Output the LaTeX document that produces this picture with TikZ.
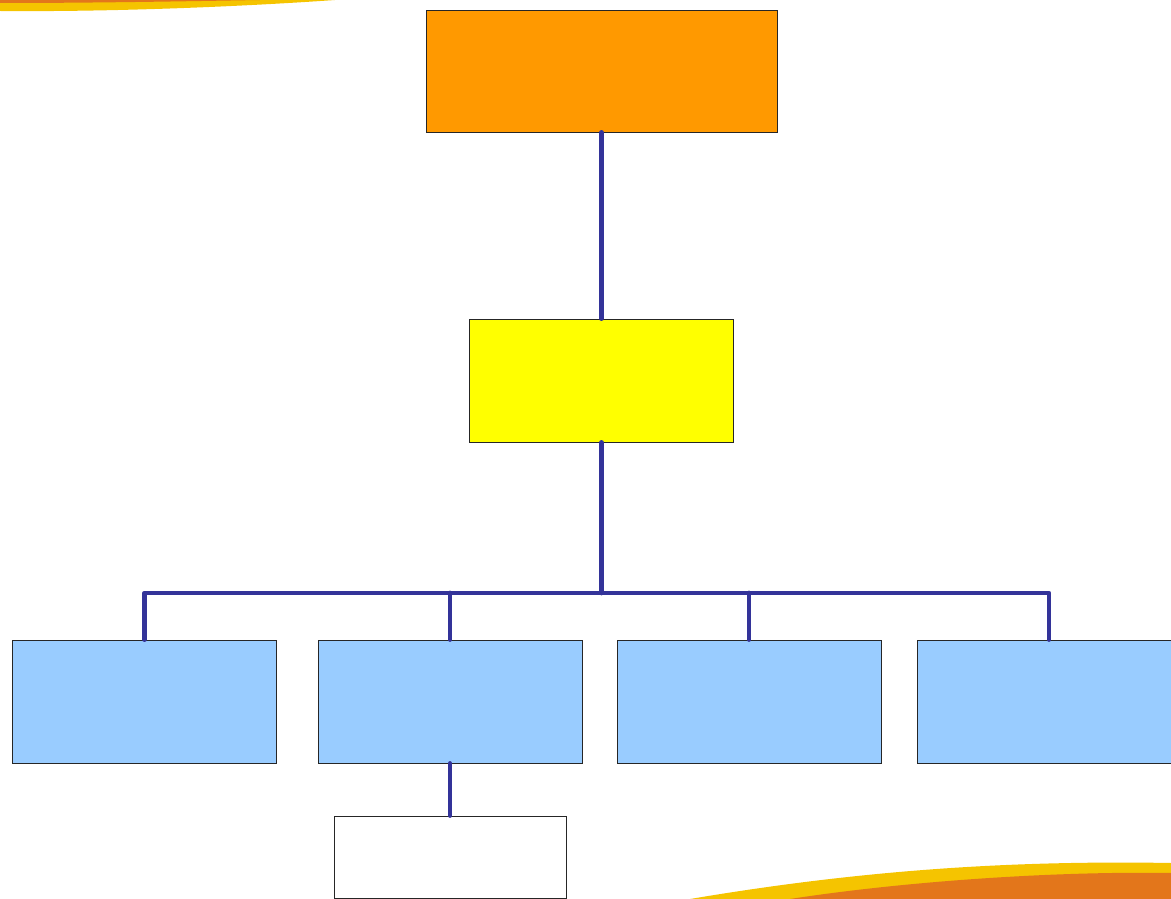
\documentclass[tikz,border=0pt]{standalone}
\usepackage{tikz}
\usetikzlibrary{positioning}

\definecolor{linkblue}{HTML}{333399}
\definecolor{boxorange}{HTML}{FF9900}
\definecolor{boxyellow}{HTML}{FFFF00}
\definecolor{boxblue}{HTML}{99CCFF}
\definecolor{swoopyellow}{HTML}{F5C400}
\definecolor{swooporange}{HTML}{E3761B}

\tikzset{
    box/.style={draw=black!85, line width=0.6pt, inner sep=0pt,
        minimum width=6.6cm, minimum height=3.075cm},
    link/.style={draw=linkblue, line width=3.4pt, line cap=round, line join=round}
}

\begin{document}
\begin{tikzpicture}[x=0.025cm,y=-0.025cm]
    % frame:
    \useasboundingbox (0,0) rectangle (1171,899);
    \clip (0,0) rectangle (1171,899);

    % swooshes
    \fill[swoopyellow] (0,0) -- (0,11) .. controls (120,12) and (250,6) .. (335,0) -- cycle;
    \fill[swooporange] (0,0) -- (0,3) .. controls (100,3) and (200,1) .. (260,0) -- cycle;
    \fill[swoopyellow] (690,899) .. controls (850,872) and (1000,860) .. (1171,863) -- (1171,899) -- cycle;
    \fill[swooporange] (790,899) .. controls (900,882) and (1050,871) .. (1171,873) -- (1171,899) -- cycle;

    % boxes
    \node[box, fill=boxorange, minimum width=8.775cm, minimum height=3.05cm] (top) at (601.5,71) {};
    \node[box, fill=boxyellow] (mid) at (601.5,380.5) {};
    \node[box, fill=boxblue] (unit1) at (144.5,701.5) {};
    \node[box, fill=boxblue] (unit2) at (450,701.5) {};
    \node[box, fill=boxblue] (unit3) at (749,701.5) {};
    \node[box, fill=boxblue] (unit4) at (1049,701.5) {};
    \node[box, fill=white, minimum width=5.8cm, minimum height=2.05cm] (sub) at (450,857) {};

    % connectors
    \coordinate (bus) at (601.5,593);
    \draw[link] (top.south) -- (mid.north);
    \draw[link] (mid.south) -- (bus);
    \draw[link] (unit1.north) |- (bus) -| (unit4.north);
    \draw[link] (unit2.north) -- (unit2.north |- bus);
    \draw[link] (unit3.north) -- (unit3.north |- bus);
    \draw[link] (unit2.south) -- (sub.north);
\end{tikzpicture}
\end{document}
